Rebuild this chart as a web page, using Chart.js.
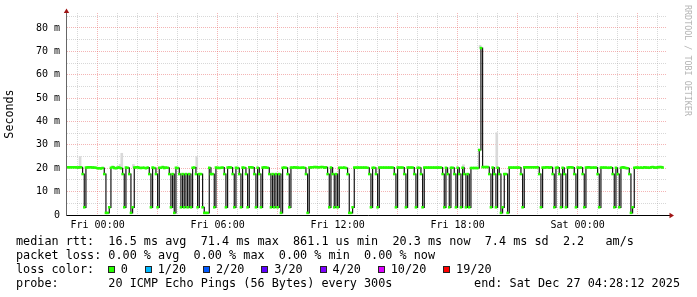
<!DOCTYPE html>
<html>
<head>
<meta charset="utf-8">
<script src="https://cdn.jsdelivr.net/npm/chart.js@4.4.1/dist/chart.umd.min.js"></script>
<style>
  html, body { margin: 0; padding: 0; background: #fff; }
  #wrap { position: relative; width: 697px; height: 297px; overflow: hidden; background: #fff; }
  #chart { position: absolute; left: 0; top: 0; }
  .row { position: absolute; left: 16px; height: 14px; line-height: 14px;
         font: 11.8px "DejaVu Sans Mono", monospace; color: #000; white-space: pre; }
  .box { position: absolute; width: 5px; height: 5px; border: 1px solid #222; }
  #mark { position: absolute; left: 692px; top: 5px; transform: rotate(90deg); transform-origin: 0 0;
          font: 8.4px "DejaVu Sans Mono", monospace; line-height: 9px; color: #b4b4b4; white-space: pre; }
</style>
</head>
<body>
<div id="wrap">
  <canvas id="chart" width="697" height="297"></canvas>
  <div id="mark">RRDTOOL / TOBI OETIKER</div>
</div>
<script>
// median rtt in ms, one value per 300 s step, first step Thu 22:30 (one row = 1 hour)
const medianMs = [
  20.4,20.4,20.4,20.4,20.4,20.4,20.3,20.4,20.4,17.5,3.3,20.3,
  20.4,20.4,20.4,20.3,20.3,20.2,20.0,20.0,19.9,20.1,17.5,0.9,
  0.9,3.3,20.2,20.5,20.1,20.0,20.3,20.3,20.0,17.5,3.3,20.3,
  20.2,17.5,0.9,3.3,20.3,20.4,20.4,20.2,20.1,20.2,20.2,20.0,
  20.3,17.5,3.3,20.3,20.1,17.5,3.3,20.2,20.2,20.5,20.1,20.3,
  20.2,17.5,3.3,17.5,0.9,20.2,20.1,17.5,3.3,17.5,3.3,17.5,
  3.3,17.5,3.3,20.2,20.3,17.5,3.3,17.5,17.5,3.3,0.9,0.9,
  0.9,20.2,17.5,17.5,3.3,20.3,20.2,20.1,20.2,20.3,17.5,3.3,
  20.3,20.4,20.3,17.5,3.3,20.2,20.1,17.5,3.3,20.3,20.2,17.5,
  3.3,20.4,20.4,20.3,17.5,3.3,20.2,17.5,3.3,20.3,20.4,20.3,
  20.2,17.5,3.3,17.5,3.3,17.5,3.3,17.5,0.9,20.2,20.3,20.2,
  17.5,3.3,20.3,20.3,20.4,20.3,20.3,20.2,20.2,20.3,20.2,17.5,
  0.9,20.3,20.4,20.4,20.5,20.5,20.4,20.4,20.5,20.5,20.3,20.4,
  17.5,3.3,20.3,17.5,3.3,17.5,3.3,20.2,20.2,20.2,20.3,20.1,
  17.5,0.9,0.9,3.3,20.3,20.3,20.3,20.3,20.3,20.3,20.3,20.3,
  20.2,17.5,3.3,20.2,20.2,17.5,3.3,20.3,20.3,20.3,20.3,20.3,
  20.3,20.3,20.3,20.3,17.5,3.3,20.3,20.3,20.3,20.3,17.5,3.3,
  20.3,20.3,20.3,20.3,17.5,3.3,20.2,20.2,17.5,3.3,20.3,20.3,
  20.3,20.3,20.3,20.3,20.3,20.3,20.3,20.3,20.3,17.5,3.3,20.2,
  17.5,3.3,20.2,20.2,17.5,3.3,20.2,17.5,3.3,20.2,17.5,3.3,
  17.5,3.3,20.1,20.1,20.1,20.1,20.1,27.8,71.4,20.5,20.5,20.5,
  20.5,17.5,3.3,20.3,17.5,3.3,20.2,17.5,0.9,3.3,17.5,17.5,
  0.9,20.3,20.3,20.3,20.3,20.3,20.3,20.3,17.5,3.3,20.4,20.4,
  20.4,20.4,20.4,20.4,20.4,20.4,20.4,17.5,3.3,20.3,20.3,20.4,
  20.4,20.3,20.4,17.5,3.3,20.2,20.3,17.5,3.3,20.2,17.5,3.3,
  20.3,20.4,20.4,20.3,17.5,3.3,20.3,20.2,20.3,17.5,3.3,20.3,
  20.4,20.4,20.2,20.3,20.3,20.3,17.5,3.3,20.3,20.3,20.3,20.3,
  20.2,20.2,20.3,17.5,3.3,20.2,17.5,3.3,20.2,20.4,20.3,20.1,
  20.0,17.5,0.9,3.3,20.2,20.3,20.3,20.2,20.3,20.2,20.4,20.3,
  20.3,20.2,20.4,20.5,20.3,20.3,20.4,20.5,20.5,20.3
];

// grey "smoke" (spread of the pings) where it shows above the median
const smokeIndex = [8, 32, 33, 40, 78, 238, 248, 258];
const smokeLow   = [20.4, 20.0, 20.0, 20.3, 20.0, 20.2, 71.4, 20.2];
const smokeHigh  = [25.0, 21.7, 26.4, 21.6, 25.0, 21.5, 72.6, 35.2];

// time axis in hours from Fri 00:00
const tickHours  = [0, 6, 12, 18, 24];
const tickLabels = ["Fri 00:00", "Fri 06:00", "Fri 12:00", "Fri 18:00", "Sat 00:00"];

const rttStats   = ["16.5 ms avg", "71.4 ms max", "861.1 us min", "20.3 ms now", "7.4 ms sd", "2.2   am/s"];
const lossStats  = ["0.00 % avg", "0.00 % max", "0.00 % min", "0.00 % now"];
const lossLabels = ["0", "1/20", "2/20", "3/20", "4/20", "10/20", "19/20"];
const lossColors = ["#26ff00", "#00b8ff", "#0059ff", "#5e00ff", "#7e00ff", "#dd00ff", "#ff0000"];
const probeText  = "20 ICMP Echo Pings (56 Bytes) every 300s";
const endText    = "end: Sat Dec 27 04:28:12 2025";

(function () {
  "use strict";

  const FIRST_SAMPLE = -1.5;      // Thu 22:30
  const STEP_H = 5 / 60;          // 300 s
  const X_MIN = -1.53, X_MAX = 28.47;
  const Y_MAX = 86.4;
  const RED = "rgba(230, 90, 90, 0.45)";
  const GREY = "rgba(140, 140, 140, 0.34)";
  const MONO = "'DejaVu Sans Mono', monospace";
  const CHAR_W = 7.1;
  const ROW_TOP = 234, ROW_STEP = 14.15;

  // axis lines and the small red arrows rrdtool puts on them
  const axisDecor = {
    id: "axisDecor",
    afterDraw(chart) {
      const { ctx, chartArea: a } = chart;
      const ax = Math.round(a.left) - 0.5;
      const ay = Math.round(a.bottom) + 0.5;
      ctx.save();
      ctx.lineWidth = 1;
      ctx.strokeStyle = "#666";
      ctx.beginPath();
      ctx.moveTo(ax, a.top - 1);
      ctx.lineTo(ax, ay);
      ctx.stroke();
      ctx.strokeStyle = "#000";
      ctx.beginPath();
      ctx.moveTo(ax, ay);
      ctx.lineTo(a.right + 3, ay);
      ctx.stroke();
      ctx.fillStyle = "#a01515";
      ctx.beginPath();
      ctx.moveTo(ax, a.top - 4.5);
      ctx.lineTo(ax - 2.7, a.top);
      ctx.lineTo(ax + 2.7, a.top);
      ctx.closePath();
      ctx.fill();
      ctx.beginPath();
      ctx.moveTo(a.right + 7, ay);
      ctx.lineTo(a.right + 2.5, ay - 2.7);
      ctx.lineTo(a.right + 2.5, ay + 2.7);
      ctx.closePath();
      ctx.fill();
      ctx.restore();
    },
  };

  function initChart() {
    const points = medianMs.map((v, i) => ({ x: FIRST_SAMPLE + i * STEP_H, y: v }));
    const smoke = smokeIndex.map((idx, k) => ({
      x: FIRST_SAMPLE + (idx - 0.5) * STEP_H,
      y: [smokeLow[k], smokeHigh[k]],
    }));

    const hourTicks = [];
    for (let h = Math.ceil(X_MIN); h <= Math.floor(X_MAX); h++) hourTicks.push(h);
    const msTicks = [];
    for (let v = 0; v < Y_MAX; v += 5) msTicks.push(v);

    new Chart(document.getElementById("chart"), {
      type: "line",
      data: {
        datasets: [
          {
            type: "bar",
            data: smoke,
            backgroundColor: "#d9d9d9",
            barThickness: 2,
            order: 3,
          },
          {
            data: points,
            stepped: "before",
            borderColor: "#151515",
            borderWidth: 1.2,
            pointRadius: 0,
            fill: false,
            order: 2,
          },
          {
            data: points,
            showLine: false,
            pointStyle: "rect",
            pointRadius: 1.8,
            pointBorderWidth: 0,
            pointBackgroundColor: lossColors[0],
            order: 1,
          },
        ],
      },
      options: {
        responsive: false,
        animation: false,
        events: [],
        layout: { padding: { top: 13, right: 30, left: 0, bottom: 0 } },
        plugins: { legend: { display: false }, tooltip: { enabled: false } },
        scales: {
          x: {
            type: "linear",
            min: X_MIN,
            max: X_MAX,
            offset: false,
            afterBuildTicks: (s) => { s.ticks = hourTicks.map((v) => ({ value: v })); },
            afterFit: (s) => { s.height = 82; },
            grid: {
              offset: false,
              drawTicks: false,
              lineWidth: 1,
              color: (c) => (c.tick && c.tick.value % 3 === 0 ? RED : GREY),
            },
            border: { display: false, dash: [1, 1] },
            ticks: {
              autoSkip: false,
              maxRotation: 0,
              padding: 4,
              color: "#000",
              font: { family: MONO, size: 10 },
              callback: (v) => {
                const k = tickHours.indexOf(v);
                return k >= 0 ? tickLabels[k] : "";
              },
            },
          },
          y: {
            min: 0,
            max: Y_MAX,
            afterBuildTicks: (s) => { s.ticks = msTicks.map((v) => ({ value: v })); },
            afterFit: (s) => { s.width = 67; },
            grid: {
              drawTicks: false,
              lineWidth: 1,
              color: (c) => (c.tick && c.tick.value % 10 === 0 ? RED : GREY),
            },
            border: { display: false, dash: [1, 1] },
            ticks: {
              autoSkip: false,
              padding: 7,
              color: "#000",
              font: { family: MONO, size: 10 },
              callback: (v) => (v === 0 ? "0" : v % 10 === 0 ? v + " m" : ""),
            },
            title: {
              display: true,
              text: "Seconds",
              color: "#000",
              font: { family: MONO, size: 11.7 },
              padding: { top: 3, bottom: 0 },
            },
          },
        },
      },
      plugins: [axisDecor],
    });
  }

  function addText(text, left, top) {
    const el = document.createElement("div");
    el.className = "row";
    el.style.left = left + "px";
    el.style.top = top + "px";
    el.textContent = text;
    document.getElementById("wrap").appendChild(el);
    return el;
  }

  function buildLegend() {
    addText("median rtt:  " + rttStats.join("  "), 16, ROW_TOP);
    addText("packet loss: " + lossStats.join("  "), 16, ROW_TOP + ROW_STEP);
    addText("loss color:", 16, ROW_TOP + 2 * ROW_STEP);
    addText("probe:       " + probeText, 16, ROW_TOP + 3 * ROW_STEP);
    const end = addText(endText, 0, ROW_TOP + 3 * ROW_STEP);
    end.style.left = "auto";
    end.style.right = "17px";

    // loss colour swatches
    let x = 108;
    lossLabels.forEach((label, k) => {
      const box = document.createElement("div");
      box.className = "box";
      box.style.left = x + "px";
      box.style.top = Math.round(ROW_TOP + 2 * ROW_STEP + 3.5) + "px";
      box.style.background = lossColors[k];
      document.getElementById("wrap").appendChild(box);
      addText(label, x + 12.8, ROW_TOP + 2 * ROW_STEP);
      x += 29.85 + label.length * CHAR_W;
    });
  }

  initChart();
  buildLegend();
})();
</script>
</body>
</html>
